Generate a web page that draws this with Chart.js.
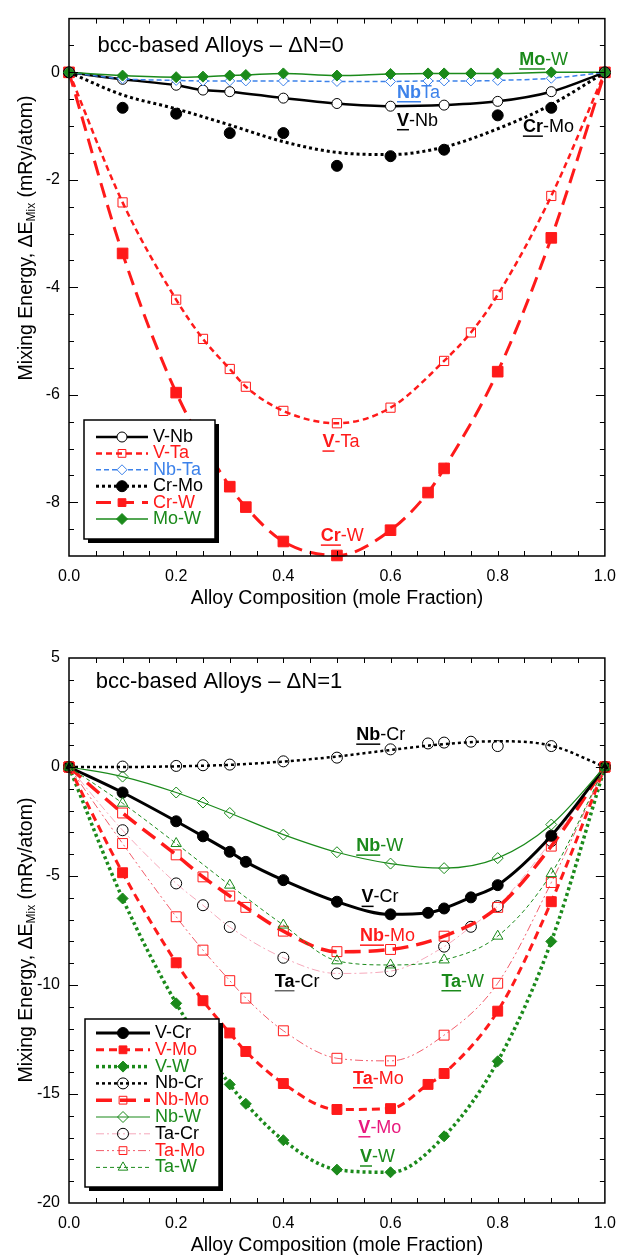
<!DOCTYPE html>
<html>
<head>
<meta charset="utf-8">
<script src="https://cdn.jsdelivr.net/npm/chart.js@4.4.1/dist/chart.umd.min.js"></script>
<style>
  html, body { margin: 0; padding: 0; background: #fff; }
  #wrap { position: relative; width: 627px; height: 1255px; }
  canvas { position: absolute; left: 0; }
</style>
</head>
<body>
<div id="wrap">
  <canvas id="top" width="627" height="620" style="top:0"></canvas>
  <canvas id="bottom" width="627" height="635" style="top:620px"></canvas>
</div>
<script>
// ---- top panel: bcc-based alloys, dN = 0 ----
const xVNb = [0, 0.1, 0.2, 0.25, 0.3, 0.4, 0.5, 0.6, 0.7, 0.8, 0.9, 1];
const yVNb = [0, -0.13, -0.24, -0.33, -0.36, -0.48, -0.58, -0.63, -0.61, -0.54, -0.36, 0];
const xVTa = [0, 0.1, 0.2, 0.25, 0.3, 0.33, 0.4, 0.5, 0.6, 0.7, 0.75, 0.8, 0.9, 1];
const yVTa = [0, -2.42, -4.23, -4.96, -5.52, -5.85, -6.30, -6.53, -6.24, -5.37, -4.84, -4.14, -2.30, 0];
const xNbTa = [0, 0.1, 0.2, 0.25, 0.3, 0.33, 0.4, 0.5, 0.6, 0.67, 0.7, 0.75, 0.8, 0.9, 1];
const yNbTa = [0, -0.12, -0.15, -0.16, -0.16, -0.16, -0.16, -0.17, -0.17, -0.16, -0.16, -0.16, -0.15, -0.11, 0];
const xCrMo = [0, 0.1, 0.2, 0.3, 0.4, 0.5, 0.6, 0.7, 0.8, 0.9, 1];
const yCrMo = [0, -0.66, -0.77, -1.13, -1.13, -1.74, -1.56, -1.44, -0.80, -0.66, 0];
const xCrW = [0, 0.1, 0.2, 0.3, 0.33, 0.4, 0.5, 0.6, 0.67, 0.7, 0.8, 0.9, 1];
const yCrW = [0, -3.37, -5.96, -7.71, -8.09, -8.73, -8.99, -8.52, -7.82, -7.37, -5.57, -3.08, 0];
const xMoW = [0, 0.1, 0.2, 0.25, 0.3, 0.33, 0.4, 0.5, 0.6, 0.67, 0.7, 0.75, 0.8, 0.9, 1];
const yMoW = [0, -0.06, -0.09, -0.08, -0.06, -0.05, -0.02, -0.06, -0.03, -0.02, -0.02, -0.02, -0.02, 0, 0];

// fitted curves (at every 0.1)
const xFit = [0, 0.1, 0.2, 0.3, 0.4, 0.5, 0.6, 0.7, 0.8, 0.9, 1];
const fitCrMo = [0, -0.42, -0.68, -0.98, -1.29, -1.49, -1.53, -1.39, -1.05, -0.6, 0];

// ---- bottom panel: dN = 1 ----
const xVCr = [0, 0.1, 0.2, 0.25, 0.3, 0.33, 0.4, 0.5, 0.6, 0.67, 0.7, 0.75, 0.8, 0.9, 1];
const yVCr = [0, -1.17, -2.49, -3.18, -3.89, -4.35, -5.19, -6.18, -6.76, -6.69, -6.49, -5.98, -5.42, -3.15, 0];
const xVMo = [0, 0.1, 0.2, 0.25, 0.3, 0.33, 0.4, 0.5, 0.6, 0.67, 0.7, 0.8, 0.9, 1];
const yVMo = [0, -4.85, -8.98, -10.72, -12.2, -13.05, -14.52, -15.71, -15.67, -14.56, -14.06, -11.2, -6.18, 0];
const xVW = [0, 0.1, 0.2, 0.3, 0.33, 0.4, 0.5, 0.6, 0.7, 0.8, 0.9, 1];
const yVW = [0, -6.03, -10.84, -14.56, -15.45, -17.12, -18.47, -18.59, -16.94, -13.5, -8.0, 0];
const xNbCr = [0, 0.1, 0.2, 0.25, 0.3, 0.4, 0.5, 0.6, 0.67, 0.7, 0.75, 0.8, 0.9, 1];
const yNbCr = [0, 0.02, 0.05, 0.08, 0.11, 0.26, 0.43, 0.81, 1.08, 1.12, 1.16, 0.96, 0.96, 0];
const fitNbCr = [0, 0.0, 0.03, 0.1, 0.25, 0.48, 0.78, 1.05, 1.18, 0.98, 0];
const xNbMo = [0, 0.1, 0.2, 0.25, 0.3, 0.33, 0.4, 0.5, 0.6, 0.7, 0.8, 0.9, 1];
const yNbMo = [0, -2.11, -4.03, -5.04, -5.92, -6.44, -7.53, -8.47, -8.37, -7.76, -6.44, -3.63, 0];
const xNbW = [0, 0.1, 0.2, 0.25, 0.3, 0.4, 0.5, 0.6, 0.7, 0.8, 0.9, 1];
const yNbW = [0, -0.44, -1.17, -1.63, -2.11, -3.10, -3.91, -4.43, -4.64, -4.18, -2.64, 0];
const xTaCr = [0, 0.1, 0.2, 0.25, 0.3, 0.4, 0.5, 0.6, 0.7, 0.75, 0.8, 0.9, 1];
const yTaCr = [0, -2.9, -5.34, -6.34, -7.34, -8.75, -9.47, -9.36, -8.24, -7.33, -6.38, -3.4, 0];
const xTaMo = [0, 0.1, 0.2, 0.25, 0.3, 0.33, 0.4, 0.5, 0.6, 0.7, 0.8, 0.9, 1];
const yTaMo = [0, -3.51, -6.87, -8.4, -9.8, -10.6, -12.1, -13.36, -13.48, -12.3, -9.92, -5.3, 0];
const xTaW = [0, 0.1, 0.2, 0.3, 0.4, 0.5, 0.6, 0.7, 0.8, 0.9, 1];
const yTaW = [0, -1.66, -3.51, -5.42, -7.25, -8.89, -9.08, -8.85, -7.76, -4.89, 0];

const xTickVals = [0, 0.2, 0.4, 0.6, 0.8, 1];
const yTickTop = [-8, -6, -4, -2, 0];
const yTickBottom = [-20, -15, -10, -5, 0, 5];

const FONT = "'Liberation Sans', Arial, Helvetica, sans-serif";
const RED = "#ff1a1a";
const GREEN = "#1b8a1b";
const BLUE = "#3d82ea";
const MAGENTA = "#e8197d";

function pts(xs, ys) {
  return xs.map((x, i) => ({ x: x, y: ys[i] }));
}

// own marker, used for the hand drawn legend
function marker(ctx, style, x, y, r) {
  ctx.beginPath();
  if (style === "circle") {
    ctx.arc(x, y, r, 0, Math.PI * 2);
  } else if (style === "rect") {
    const s = r * Math.SQRT1_2;
    ctx.rect(x - s, y - s, 2 * s, 2 * s);
  } else if (style === "rectRot") {
    ctx.moveTo(x, y - r); ctx.lineTo(x + r, y); ctx.lineTo(x, y + r); ctx.lineTo(x - r, y);
    ctx.closePath();
  } else if (style === "triangle") {
    ctx.moveTo(x, y - r); ctx.lineTo(x + r * 0.87, y + r * 0.5); ctx.lineTo(x - r * 0.87, y + r * 0.5);
    ctx.closePath();
  }
  ctx.fill();
  ctx.stroke();
}

function label(ctx, x, y, bold, rest, color, ulColor) {
  ctx.save();
  ctx.textBaseline = "middle";
  ctx.fillStyle = color;
  ctx.font = "bold 18px " + FONT;
  ctx.fillText(bold, x, y);
  const w = ctx.measureText(bold).width;
  ctx.strokeStyle = ulColor || color;
  ctx.lineWidth = 1.5;
  ctx.beginPath();
  ctx.moveTo(x, y + 9);
  ctx.lineTo(x + w, y + 9);
  ctx.stroke();
  ctx.font = "18px " + FONT;
  ctx.fillText(rest, x + w, y);
  ctx.restore();
}

const decor = {
  id: "decor",
  afterDatasetsDraw(chart, args, o) {
    const ctx = chart.ctx;
    const a = chart.chartArea;
    const xs = chart.scales.x, ys = chart.scales.y;

    // frame
    ctx.save();
    ctx.strokeStyle = "#000";
    ctx.lineWidth = 1.5;
    ctx.strokeRect(a.left, a.top, a.right - a.left, a.bottom - a.top);

    // inward ticks on all four sides
    ctx.lineWidth = 1;
    ctx.beginPath();
    for (let v = 0.05; v < 1; v += 0.05) {
      const px = Math.round(xs.getPixelForValue(v)) + 0.5;
      ctx.moveTo(px, a.bottom); ctx.lineTo(px, a.bottom - 5);
      ctx.moveTo(px, a.top); ctx.lineTo(px, a.top + 5);
    }
    for (let v = ys.min + o.yMinor; v < ys.max - 1e-6; v += o.yMinor) {
      const py = Math.round(ys.getPixelForValue(v)) + 0.5;
      const major = Math.abs(v / o.yMajor - Math.round(v / o.yMajor)) < 1e-6;
      const len = major ? 9 : 5;
      ctx.moveTo(a.left, py); ctx.lineTo(a.left + len, py);
      ctx.moveTo(a.right, py); ctx.lineTo(a.right - len, py);
    }
    ctx.stroke();

    // panel title
    ctx.fillStyle = "#000";
    ctx.font = "22px " + FONT;
    ctx.textBaseline = "middle";
    ctx.fillText(o.title, xs.getPixelForValue(o.titleAt[0]), ys.getPixelForValue(o.titleAt[1]));

    // curve labels
    o.labels.forEach(l => {
      label(ctx, xs.getPixelForValue(l.at[0]), ys.getPixelForValue(l.at[1]), l.bold, l.rest, l.color, l.ul);
    });

    // x axis title
    ctx.font = "19.5px " + FONT;
    ctx.textAlign = "center";
    ctx.fillStyle = "#000";
    ctx.fillText("Alloy Composition (mole Fraction)", (a.left + a.right) / 2, a.bottom + 43);

    // y axis title with subscript
    ctx.save();
    ctx.translate(27, o.yTitleY);
    ctx.rotate(-Math.PI / 2);
    ctx.textAlign = "left";
    const p1 = "Mixing Energy, \u0394E", sub = "Mix", p2 = " (mRy/atom)";
    ctx.font = "19.5px " + FONT;
    const w1 = ctx.measureText(p1).width, w3 = ctx.measureText(p2).width;
    ctx.font = "12px " + FONT;
    const w2 = ctx.measureText(sub).width;
    const x0 = -(w1 + w2 + w3) / 2;
    ctx.font = "19.5px " + FONT;
    ctx.fillText(p1, x0, 0);
    ctx.font = "12px " + FONT;
    ctx.fillText(sub, x0 + w1, 5);
    ctx.font = "19.5px " + FONT;
    ctx.fillText(p2, x0 + w1 + w2, 0);
    ctx.restore();

    // legend box with drop shadow
    const L = o.legend;
    ctx.fillStyle = "#000";
    ctx.fillRect(L.x + 4, L.y + 4, L.w, L.h);
    ctx.fillStyle = "#fff";
    ctx.fillRect(L.x, L.y, L.w, L.h);
    ctx.strokeStyle = "#000";
    ctx.lineWidth = 1.5;
    ctx.strokeRect(L.x, L.y, L.w, L.h);
    o.series.forEach((s, i) => {
      const y = L.row0 + i * L.step;
      ctx.save();
      ctx.strokeStyle = s.color;
      ctx.lineWidth = s.width;
      ctx.setLineDash(s.dash);
      ctx.beginPath();
      ctx.moveTo(L.lx0, y);
      ctx.lineTo(L.lx1, y);
      ctx.stroke();
      ctx.setLineDash([]);
      ctx.lineWidth = 1;
      ctx.fillStyle = s.fill;
      ctx.strokeStyle = s.mc;
      marker(ctx, s.ps, (L.lx0 + L.lx1) / 2, y, Math.min(s.r, 5.5));
      ctx.restore();
      ctx.fillStyle = s.tc;
      ctx.font = "18px " + FONT;
      ctx.textAlign = "left";
      ctx.textBaseline = "middle";
      ctx.fillText(s.name, L.tx, y);
    });
    ctx.restore();
  }
};

function makeChart(id, o) {
  const datasets = [];
  o.series.forEach((s, i) => {
    const order = s.order !== undefined ? s.order : i + 1;
    datasets.push({
      data: pts(s.x, s.y),
      order: order,
      showLine: !s.fit,
      borderColor: s.color,
      borderWidth: s.width,
      borderDash: s.dash,
      pointStyle: s.ps,
      pointRadius: s.r,
      pointBackgroundColor: s.fill,
      pointBorderColor: s.mc,
      pointBorderWidth: 1,
      cubicInterpolationMode: "monotone",
      clip: false,
      fill: false
    });
    if (s.fit) {
      datasets.push({
        data: pts(xFit, s.fit),
        order: order + 0.5,
        borderColor: s.color,
        borderWidth: s.width,
        borderDash: s.dash,
        pointRadius: 0,
        cubicInterpolationMode: "monotone",
        clip: false,
        fill: false
      });
    }
  });

  return new Chart(document.getElementById(id), {
    type: "line",
    data: { datasets: datasets },
    options: {
      responsive: false,
      animation: false,
      events: [],
      layout: { padding: { top: o.padTop, right: 14, left: 0, bottom: 0 } },
      scales: {
        x: {
          type: "linear", min: 0, max: 1,
          grid: { display: false, drawTicks: false },
          border: { display: false },
          ticks: { font: { family: FONT, size: 16 }, color: "#000", padding: 11, maxRotation: 0,
            callback: v => v.toFixed(1) },
          afterBuildTicks: s => { s.ticks = xTickVals.map(v => ({ value: v })); },
          afterFit: s => { s.height = o.xh; }
        },
        y: {
          type: "linear", min: o.yMin, max: o.yMax,
          grid: { display: false, drawTicks: false },
          border: { display: false },
          ticks: { font: { family: FONT, size: 16 }, color: "#000", padding: 9,
            callback: v => String(v) },
          afterBuildTicks: s => { s.ticks = o.yTicks.map(v => ({ value: v })); },
          afterFit: s => { s.width = 69; }
        }
      },
      plugins: {
        legend: { display: false },
        tooltip: { enabled: false },
        decor: o
      }
    },
    plugins: [decor]
  });
}

const topSeries = [
  { name: "V-Nb", x: xVNb, y: yVNb, color: "#000", width: 2.5, dash: [], ps: "circle", r: 5, fill: "#fff", mc: "#000", tc: "#000", order: 3 },
  { name: "V-Ta", x: xVTa, y: yVTa, color: RED, width: 2.5, dash: [6, 4], ps: "rect", r: 6.5, fill: "rgba(0,0,0,0)", mc: RED, tc: RED, order: 5 },
  { name: "Nb-Ta", x: xNbTa, y: yNbTa, color: BLUE, width: 1.5, dash: [5, 3], ps: "rectRot", r: 5, fill: "#fff", mc: BLUE, tc: BLUE, order: 2 },
  { name: "Cr-Mo", x: xCrMo, y: yCrMo, fit: fitCrMo, color: "#000", width: 3, dash: [3, 3], ps: "circle", r: 5.5, fill: "#000", mc: "#000", tc: "#000", order: 4 },
  { name: "Cr-W", x: xCrW, y: yCrW, color: RED, width: 3, dash: [15, 8], ps: "rect", r: 7.5, fill: RED, mc: RED, tc: RED, order: 6 },
  { name: "Mo-W", x: xMoW, y: yMoW, color: GREEN, width: 1.5, dash: [], ps: "rectRot", r: 5.5, fill: GREEN, mc: GREEN, tc: GREEN, order: 1 }
];

const bottomSeries = [
  { name: "V-Cr", x: xVCr, y: yVCr, color: "#000", width: 3, dash: [], ps: "circle", r: 5.5, fill: "#000", mc: "#000", tc: "#000", order: 4 },
  { name: "V-Mo", x: xVMo, y: yVMo, color: RED, width: 3, dash: [8, 5], ps: "rect", r: 7, fill: RED, mc: RED, tc: RED, order: 7 },
  { name: "V-W", x: xVW, y: yVW, color: GREEN, width: 3.5, dash: [3, 3], ps: "rectRot", r: 5.5, fill: GREEN, mc: GREEN, tc: GREEN, order: 8 },
  { name: "Nb-Cr", x: xNbCr, y: yNbCr, fit: fitNbCr, color: "#000", width: 2.5, dash: [3, 3], ps: "circle", r: 5.5, fill: "rgba(0,0,0,0)", mc: "#000", tc: "#000", order: 9 },
  { name: "Nb-Mo", x: xNbMo, y: yNbMo, color: RED, width: 3.5, dash: [16, 8], ps: "rect", r: 7, fill: "rgba(0,0,0,0)", mc: RED, tc: RED, order: 5 },
  { name: "Nb-W", x: xNbW, y: yNbW, color: GREEN, width: 1.2, dash: [], ps: "rectRot", r: 5.5, fill: "rgba(0,0,0,0)", mc: GREEN, tc: GREEN, order: 3 },
  { name: "Ta-Cr", x: xTaCr, y: yTaCr, color: "#f6a9bb", width: 1, dash: [8, 3, 2, 3], ps: "circle", r: 5.5, fill: "rgba(0,0,0,0)", mc: "#000", tc: "#000", order: 6 },
  { name: "Ta-Mo", x: xTaMo, y: yTaMo, color: "#f25c6a", width: 1, dash: [8, 3, 2, 3, 2, 3], ps: "rect", r: 7, fill: "rgba(0,0,0,0)", mc: RED, tc: RED, order: 2 },
  { name: "Ta-W", x: xTaW, y: yTaW, color: GREEN, width: 1, dash: [4, 3], ps: "triangle", r: 6, fill: "rgba(0,0,0,0)", mc: GREEN, tc: GREEN, order: 1 }
];

makeChart("top", {
  series: topSeries,
  yMin: -9, yMax: 1, yTicks: yTickTop, yMinor: 0.5, yMajor: 2,
  padTop: 9, xh: 64, yTitleY: 238,
  title: "bcc-based Alloys \u2013 \u0394N=0", titleAt: [0.053, 0.5],
  labels: [
    { bold: "Mo", rest: "-W", at: [0.84, 0.23], color: GREEN },
    { bold: "Nb", rest: "Ta", at: [0.612, -0.38], color: BLUE },
    { bold: "V", rest: "-Nb", at: [0.612, -0.9], color: "#000" },
    { bold: "Cr", rest: "-Mo", at: [0.847, -1.02], color: "#000" },
    { bold: "V", rest: "-Ta", at: [0.473, -6.88], color: RED },
    { bold: "Cr", rest: "-W", at: [0.47, -8.63], color: RED }
  ],
  legend: { x: 84, y: 420, w: 131, h: 119, row0: 437, step: 16.4, lx0: 96, lx1: 148, tx: 153 }
});

makeChart("bottom", {
  series: bottomSeries,
  yMin: -20, yMax: 5, yTicks: yTickBottom, yMinor: 1, yMajor: 5,
  padTop: 38, xh: 52, yTitleY: 320,
  title: "bcc-based Alloys \u2013 \u0394N=1", titleAt: [0.05, 3.9],
  labels: [
    { bold: "Nb", rest: "-Cr", at: [0.536, 1.46], color: "#000" },
    { bold: "Nb", rest: "-W", at: [0.536, -3.63], color: GREEN },
    { bold: "V", rest: "-Cr", at: [0.546, -5.98], color: "#000" },
    { bold: "Nb", rest: "-Mo", at: [0.543, -7.76], color: RED },
    { bold: "Ta", rest: "-Cr", at: [0.384, -9.85], color: "#000", ul: "#666" },
    { bold: "Ta", rest: "-W", at: [0.695, -9.85], color: GREEN },
    { bold: "Ta", rest: "-Mo", at: [0.53, -14.3], color: RED },
    { bold: "V", rest: "-Mo", at: [0.54, -16.55], color: MAGENTA },
    { bold: "V", rest: "-W", at: [0.543, -17.89], color: GREEN }
  ],
  legend: { x: 85, y: 399, w: 134, h: 168, row0: 413, step: 16.8, lx0: 96, lx1: 150, tx: 155 }
});
</script>
</body>
</html>
